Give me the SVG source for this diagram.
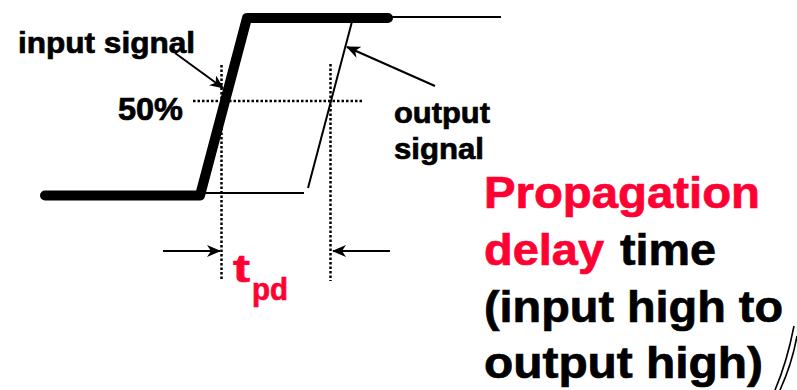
<svg xmlns="http://www.w3.org/2000/svg" width="797" height="390" viewBox="0 0 797 390">
  <defs>
    <marker id="stealth" viewBox="0 0 14 12" refX="13" refY="6" markerWidth="14" markerHeight="12" markerUnits="userSpaceOnUse" orient="auto">
      <path d="M0,0 L14,6 L0,12 L4,6 z" fill="#000"/>
    </marker>
    <style>
      .lbl { font-family: "Liberation Sans", Arial, sans-serif; font-weight: bold; fill: #000; stroke: #000; stroke-width: 0.7; }
      .red { fill: #ff0033; stroke: #ff0033; }
      .dot { fill: none; stroke: #000; stroke-width: 2.5; stroke-dasharray: 2.5 2; }
      .thin { fill: none; stroke: #000; stroke-width: 2; }
      .arr { fill: none; stroke: #000; stroke-width: 2; marker-end: url(#stealth); }
    </style>
  </defs>
  <rect width="797" height="390" fill="#fff"/>

  <g id="output-signal-wave">
    <polyline class="thin" points="203,193 304,193"/>
    <polyline class="thin" points="308,188 354,14"/>
    <polyline class="thin" points="354,17 501,17"/>
  </g>

  <g id="input-signal-wave">
    <polyline points="45,195.5 200,195.5 247,18 388,18" fill="none" stroke="#000" stroke-width="10" stroke-linecap="round" stroke-linejoin="round"/>
  </g>

  <g id="guides">
    <line class="dot" x1="221.5" y1="65" x2="221.5" y2="281"/>
    <line class="dot" x1="330.5" y1="64" x2="330.5" y2="281"/>
    <line class="dot" x1="193" y1="101" x2="363" y2="101"/>
  </g>

  <g id="connectors">
    <line class="arr" x1="175" y1="53" x2="223" y2="88"/>
    <line class="arr" x1="435" y1="86" x2="347" y2="47"/>
    <line class="arr" x1="163" y1="251" x2="220" y2="251"/>
    <line class="arr" x1="390" y1="251" x2="333" y2="251"/>
  </g>

  <g id="label-input-signal">
    <text class="lbl" x="18" y="53" font-size="30" textLength="177" lengthAdjust="spacingAndGlyphs">input signal</text>
  </g>
  <g id="label-50">
    <text class="lbl" x="118" y="120" font-size="31" textLength="65" lengthAdjust="spacingAndGlyphs">50%</text>
  </g>
  <g id="label-output-signal">
    <text class="lbl" x="394" y="123" font-size="30" textLength="96" lengthAdjust="spacingAndGlyphs">output</text>
    <text class="lbl" x="394" y="159" font-size="30" textLength="90" lengthAdjust="spacingAndGlyphs">signal</text>
  </g>
  <g id="label-tpd">
    <text class="lbl red" x="233" y="282" font-size="39" textLength="17" lengthAdjust="spacingAndGlyphs">t</text>
    <text class="lbl red" x="252" y="300" font-size="31" textLength="36" lengthAdjust="spacingAndGlyphs">pd</text>
  </g>

  <g id="caption">
    <text class="lbl red" x="484" y="208" font-size="44" textLength="276" lengthAdjust="spacingAndGlyphs">Propagation</text>
    <text class="lbl red" x="484" y="265" font-size="44" textLength="120" lengthAdjust="spacingAndGlyphs">delay</text>
    <text class="lbl" x="620" y="265" font-size="44" textLength="96" lengthAdjust="spacingAndGlyphs">time</text>
    <text class="lbl" x="484" y="322" font-size="44" textLength="299" lengthAdjust="spacingAndGlyphs">(input high to</text>
    <text class="lbl" x="484" y="378" font-size="44" textLength="279" lengthAdjust="spacingAndGlyphs">output high)</text>
  </g>

  <g id="corner-lines">
    <path d="M775,390 Q787,362 794,326" fill="none" stroke="#000" stroke-width="1.6"/>
    <path d="M780,390 Q792,364 797,336" fill="none" stroke="#000" stroke-width="1.6"/>
  </g>
</svg>
